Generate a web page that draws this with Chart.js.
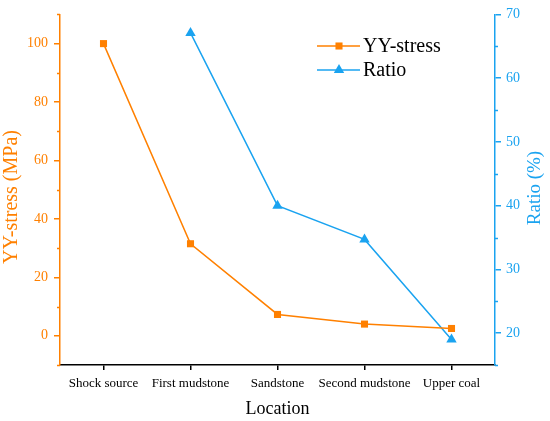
<!DOCTYPE html>
<html>
<head>
<meta charset="utf-8">
<script src="https://cdn.jsdelivr.net/npm/chart.js@4.4.1/dist/chart.umd.min.js"></script>
<style>
html,body{margin:0;padding:0;background:#fff;}
#wrap{width:550px;height:421px;}
</style>
</head>
<body>
<div id="wrap"><canvas id="c"></canvas></div>
<script>
const categories = ['Shock source', 'First mudstone', 'Sandstone', 'Second mudstone', 'Upper coal'];
const stressValues = [100, 31.5, 7.3, 4.0, 2.5];
const ratioValues = [null, 67.1, 40.0, 34.7, 19.0];
const stressTicks = [0, 20, 40, 60, 80, 100];
const ratioTicks = [20, 30, 40, 50, 60, 70];

const ORANGE = '#FF8000';
const BLUE = '#1AA3F0';
const FONT = '"Liberation Serif", "Times New Roman", serif';

const extras = {
  id: 'extras',
  afterDraw(chart) {
    const ctx = chart.ctx;
    const y = chart.scales.y, y1 = chart.scales.y1;
    const area = chart.chartArea;
    ctx.save();
    // minor ticks
    ctx.lineWidth = 1.5;
    ctx.strokeStyle = ORANGE;
    for (let v = -10; v <= 110; v += 10) {
      if (v % 20 === 0) continue;
      const py = Math.round(y.getPixelForValue(v)) + 0.5;
      ctx.beginPath(); ctx.moveTo(area.left - 3, py); ctx.lineTo(area.left, py); ctx.stroke();
    }
    ctx.strokeStyle = BLUE;
    for (let v = 15; v <= 70; v += 5) {
      if (v % 10 === 0) continue;
      const py = Math.round(y1.getPixelForValue(v)) + 0.5;
      ctx.beginPath(); ctx.moveTo(area.right, py); ctx.lineTo(area.right + 3, py); ctx.stroke();
    }
    // y titles (both read bottom to top)
    ctx.textAlign = 'center';
    ctx.textBaseline = 'middle';
    ctx.fillStyle = ORANGE;
    ctx.font = '20px ' + FONT;
    ctx.save(); ctx.translate(12, 197); ctx.rotate(-Math.PI / 2); ctx.fillText('YY-stress (MPa)', 0, 0); ctx.restore();
    ctx.fillStyle = BLUE;
    ctx.font = '19px ' + FONT;
    ctx.save(); ctx.translate(535, 188); ctx.rotate(-Math.PI / 2); ctx.fillText('Ratio (%)', 0, 0); ctx.restore();
    // legend
    const rows = [
      {label: 'YY-stress', color: ORANGE, style: 'rect', r: 5, yy: 46},
      {label: 'Ratio', color: BLUE, style: 'triangle', r: 6, yy: 70}
    ];
    ctx.font = '20px ' + FONT;
    ctx.textAlign = 'left';
    rows.forEach(rw => {
      ctx.strokeStyle = rw.color; ctx.lineWidth = 1.5;
      ctx.beginPath(); ctx.moveTo(317, rw.yy); ctx.lineTo(360, rw.yy); ctx.stroke();
      ctx.fillStyle = rw.color;
      Chart.helpers.drawPoint(ctx, {pointStyle: rw.style, radius: rw.r, borderWidth: 0, rotation: 0}, 339, rw.yy);
      ctx.fillStyle = '#000';
      ctx.fillText(rw.label, 363, rw.yy + 1);
    });
    ctx.restore();
  }
};

new Chart(document.getElementById('c'), {
  type: 'line',
  data: {
    labels: categories,
    datasets: [
      {
        label: 'YY-stress', data: stressValues, yAxisID: 'y',
        borderColor: ORANGE, backgroundColor: ORANGE, borderWidth: 1.5,
        pointStyle: 'rect', pointRadius: 5, pointHoverRadius: 5,
        pointBorderColor: ORANGE, pointBackgroundColor: ORANGE, pointBorderWidth: 0,
        tension: 0, clip: false
      },
      {
        label: 'Ratio', data: ratioValues, yAxisID: 'y1',
        borderColor: BLUE, backgroundColor: BLUE, borderWidth: 1.5,
        pointStyle: 'triangle', pointRadius: 6, pointHoverRadius: 6,
        pointBorderColor: BLUE, pointBackgroundColor: BLUE, pointBorderWidth: 0,
        tension: 0, clip: false
      }
    ]
  },
  options: {
    responsive: true,
    maintainAspectRatio: false,
    animation: false,
    devicePixelRatio: 1,
    layout: {padding: {top: 12, left: 0, right: 0, bottom: 0}},
    plugins: {legend: {display: false}, tooltip: {enabled: false}},
    scales: {
      x: {
        type: 'category',
        offset: true,
        grid: {display: true, drawOnChartArea: false, drawTicks: true, tickLength: 5, offset: false, color: '#000', lineWidth: 1.5},
        border: {display: true, color: '#000', width: 1.5},
        ticks: {color: '#000', font: {family: FONT, size: 13}, padding: 6, maxRotation: 0, autoSkip: false},
        title: {display: true, text: 'Location', color: '#000', font: {family: FONT, size: 18}, padding: {top: 0, bottom: 1}},
        afterFit(s) { s.height = 56; }
      },
      y: {
        type: 'linear', position: 'left', min: -10, max: 110,
        grid: {display: true, drawOnChartArea: false, drawTicks: true, tickLength: 6, lineWidth: 1.5,
          tickColor: c => (stressTicks.includes(c.tick.value) ? ORANGE : 'rgba(0,0,0,0)')},
        border: {display: true, color: ORANGE, width: 1.5},
        ticks: {stepSize: 10, autoSkip: false, color: ORANGE, font: {family: FONT, size: 14}, padding: 6,
          callback: v => (stressTicks.includes(v) ? String(v) : '')},
        afterFit(s) { s.width = 60; }
      },
      y1: {
        type: 'linear', position: 'right', min: 15, max: 70,
        grid: {display: true, drawOnChartArea: false, drawTicks: true, tickLength: 6, lineWidth: 1.5,
          tickColor: c => (ratioTicks.includes(c.tick.value) ? BLUE : 'rgba(0,0,0,0)')},
        border: {display: true, color: BLUE, width: 1.5},
        ticks: {stepSize: 5, autoSkip: false, color: BLUE, font: {family: FONT, size: 14}, padding: 5,
          callback: v => (ratioTicks.includes(v) ? String(v) : '')},
        afterFit(s) { s.width = 55; }
      }
    }
  },
  plugins: [extras]
});
</script>
</body>
</html>
